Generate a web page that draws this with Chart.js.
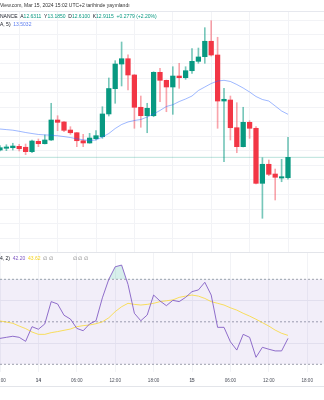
<!DOCTYPE html>
<html>
<head>
<meta charset="utf-8">
<script src="https://cdn.jsdelivr.net/npm/chart.js@4.4.1/dist/chart.umd.min.js"></script>
<style>
  html, body { margin: 0; padding: 0; background: #fff; overflow: hidden; }
  #wrap { position: relative; width: 324px; height: 400px; }
  #priceBox { position: absolute; left: 0; top: 0; width: 324px; height: 252px; }
  #rsiBox { position: absolute; left: 0; top: 252px; width: 324px; height: 148px; }
</style>
</head>
<body>
<div id="wrap">
  <div id="priceBox"><canvas id="priceChart" width="324" height="252"></canvas></div>
  <div id="rsiBox"><canvas id="rsiChart" width="324" height="148"></canvas></div>
</div>
<script>
// hourly candles, Mar 13 18:00 -> Mar 15 15:00
const opens  = [13.012, 13.036, 13.044, 13.063, 13.050, 12.989, 13.132, 13.099, 13.150, 13.425, 13.398, 13.287, 13.250, 13.140, 13.109, 13.168, 13.195, 13.508, 13.856, 14.195, 14.268, 14.044, 13.600, 13.484, 13.484, 14.081, 13.971, 13.879, 14.030, 14.007, 14.103, 14.232, 14.296, 14.508, 14.319, 13.686, 13.700, 13.319, 13.058, 13.393, 13.311, 12.554, 12.816, 12.682, 12.627, 12.6311];
const highs  = [13.074, 13.085, 13.105, 13.091, 13.095, 13.150, 13.164, 13.219, 13.655, 13.484, 13.404, 13.333, 13.253, 13.228, 13.242, 13.278, 13.608, 14.003, 14.241, 14.498, 14.323, 14.051, 13.755, 13.655, 14.089, 14.136, 13.975, 14.158, 14.205, 14.158, 14.406, 14.415, 14.695, 14.791, 14.563, 13.861, 13.755, 13.663, 13.600, 13.415, 13.333, 12.906, 12.875, 12.751, 12.884, 13.185];
const lows   = [12.999, 13.003, 13.012, 12.999, 12.948, 12.975, 13.058, 13.095, 13.143, 13.278, 13.264, 13.228, 13.058, 13.058, 13.105, 13.150, 13.173, 13.480, 13.655, 13.893, 13.838, 13.311, 13.325, 13.250, 13.470, 13.677, 13.539, 13.503, 13.861, 13.985, 14.067, 14.205, 14.205, 14.305, 13.311, 12.851, 13.150, 12.975, 13.054, 13.173, 12.545, 12.073, 12.659, 12.325, 12.576, 12.61];
const closes = [13.044, 13.054, 13.067, 13.030, 12.989, 13.136, 13.099, 13.150, 13.425, 13.393, 13.283, 13.250, 13.140, 13.109, 13.177, 13.209, 13.508, 13.858, 14.195, 14.268, 14.044, 13.600, 13.484, 13.586, 14.081, 13.971, 13.879, 14.030, 14.007, 14.103, 14.232, 14.292, 14.508, 14.319, 13.686, 13.710, 13.319, 13.058, 13.393, 13.311, 12.554, 12.816, 12.678, 12.637, 12.645, 12.9115];
const maValues = [13.301, 13.293, 13.285, 13.270, 13.253, 13.239, 13.226, 13.220, 13.216, 13.208, 13.197, 13.184, 13.166, 13.153, 13.142, 13.150, 13.191, 13.239, 13.308, 13.363, 13.398, 13.418, 13.432, 13.466, 13.508, 13.556, 13.611, 13.635, 13.679, 13.714, 13.755, 13.831, 13.879, 13.927, 13.961, 13.971, 13.955, 13.913, 13.865, 13.810, 13.748, 13.707, 13.686, 13.618, 13.549, 13.5032];

const rsiValues = [42.2, 42.7, 43.2, 42.7, 40.8, 47.7, 46.5, 49.0, 59.5, 58.4, 53.1, 51.3, 46.9, 45.8, 49.0, 50.5, 61.3, 70.0, 75.9, 76.7, 67.6, 54.0, 50.5, 53.2, 62.6, 59.8, 57.6, 60.1, 59.5, 61.5, 64.2, 65.0, 68.6, 62.6, 47.4, 47.4, 40.6, 36.7, 44.1, 42.7, 33.3, 38.0, 37.1, 36.3, 36.3, 42.2];
const rsiMaValues = [50.4, 49.9, 49.3, 48.0, 46.8, 45.2, 44.1, 44.1, 44.9, 45.4, 46.0, 46.6, 47.7, 48.2, 48.5, 49.1, 50.0, 51.9, 54.8, 57.1, 58.7, 58.2, 57.9, 58.2, 58.7, 59.5, 59.9, 60.3, 61.5, 62.1, 62.6, 62.1, 61.0, 59.5, 58.7, 57.9, 56.6, 55.5, 54.0, 52.7, 51.2, 49.6, 48.0, 46.1, 44.6, 43.62];
const rsiLevels = [70, 50, 30];

const timeLabels = ["18:00", "14", "06:00", "12:00", "18:00", "15", "06:00", "12:00", "18:00"];
const priceGrid = [11.8, 12.0, 12.2, 12.4, 12.6, 12.8, 13.0, 13.2, 13.4, 13.6, 13.8, 14.0, 14.2, 14.4, 14.6, 14.8];
const rsiGrid = [40, 60];

const changeText = "+0.2779 (+2.20%)";

const UP = "#089981";
const DOWN = "#F23645";
const FONT = "'Liberation Sans', Arial, sans-serif";
const TXT = "#131722";
const X_MAX = 50.625;   // 324px / 6.4px per hour
const HOURS_PER_TICK = 6;

const isUp = opens.map((o, i) => closes[i] >= o);
const lastClose = closes[closes.length - 1];

function xTicks(scale) {
  scale.ticks = timeLabels.map((_, i) => ({ value: i * HOURS_PER_TICK }));
}

function drawRuns(ctx, runs, hidden, y) {
  let x = -ctx.measureText(hidden).width;
  runs.forEach(([t, c]) => {
    ctx.fillStyle = c;
    ctx.fillText(t, x, y);
    x += ctx.measureText(t).width;
  });
}

const priceText = {
  id: "priceText",
  afterDraw(chart) {
    const ctx = chart.ctx;
    const area = chart.chartArea;
    ctx.save();
    ctx.strokeStyle = "#e6e8ee";
    ctx.lineWidth = 1;
    ctx.beginPath();
    ctx.moveTo(0, Math.round(area.top) + 0.5);
    ctx.lineTo(324, Math.round(area.top) + 0.5);
    ctx.stroke();

    ctx.font = "5px " + FONT;
    ctx.textBaseline = "middle";
    const n = opens.length - 1;
    drawRuns(ctx, [["TradingView.com, Mar 15, 2024 15:02 UTC+2 tarihinde yayınlandı", "#333"]], "Trading", 6);
    drawRuns(ctx, [
      ["BINANCE  ", TXT], ["A", TXT], [opens[n].toFixed(4), UP],
      ["  Y", TXT], [highs[n].toFixed(4), UP],
      ["  D", TXT], [lows[n].toFixed(4), UP],
      ["  K", TXT], [closes[n].toFixed(4), UP],
      ["  " + changeText, UP]
    ], "BI", 17);
    drawRuns(ctx, [["MA (9, close, 0, SMA, 5)  ", TXT], [maValues[n].toFixed(4), "#5b7cf0"]], "MA (9, close, 0, SM", 25);
    ctx.restore();
  }
};

new Chart(document.getElementById("priceChart"), {
  data: {
    datasets: [
      {
        type: "line",
        data: [{ x: 0, y: lastClose }, { x: X_MAX, y: lastClose }],
        borderColor: "rgba(8,153,129,0.28)",
        borderWidth: 1,
        pointRadius: 0,
        order: 4
      },
      {
        type: "bar",
        data: lows.map((l, i) => ({ x: i, y: [l, highs[i]] })),
        backgroundColor: isUp.map(u => u ? "rgba(8,153,129,0.55)" : "rgba(242,54,69,0.45)"),
        barThickness: 1,
        grouped: false,
        order: 3
      },
      {
        type: "bar",
        data: opens.map((o, i) => ({ x: i, y: [o, closes[i]] })),
        backgroundColor: isUp.map(u => u ? UP : DOWN),
        barThickness: 4.6,
        grouped: false,
        order: 2
      },
      {
        type: "line",
        data: maValues.map((v, i) => ({ x: i, y: v })),
        borderColor: "rgba(41,98,255,0.45)",
        borderWidth: 1,
        pointRadius: 0,
        order: 1
      }
    ]
  },
  options: {
    responsive: false,
    animation: false,
    devicePixelRatio: 1,
    layout: { padding: { top: 11, left: 0, right: 0, bottom: 0 } },
    plugins: { legend: { display: false }, tooltip: { enabled: false } },
    scales: {
      x: {
        type: "linear",
        min: 0,
        max: X_MAX,
        offset: false,
        afterBuildTicks: xTicks,
        afterFit(s) { s.height = 0; s.paddingLeft = 0; s.paddingRight = 0; },
        ticks: { display: false },
        grid: { color: "#f2f3f6", drawTicks: false },
        border: { display: false }
      },
      y: {
        min: 11.6094,
        max: 14.9243,
        afterBuildTicks(s) { s.ticks = priceGrid.map(v => ({ value: v })); },
        afterFit(s) { s.width = 0; },
        ticks: { display: false },
        grid: { color: "#f2f3f6", drawTicks: false },
        border: { display: false }
      }
    }
  },
  plugins: [priceText]
});

const rsiText = {
  id: "rsiText",
  afterDraw(chart) {
    const ctx = chart.ctx;
    ctx.save();
    ctx.strokeStyle = "#e3e5ea";
    ctx.lineWidth = 1;
    ctx.beginPath();
    ctx.moveTo(0, 0.5); ctx.lineTo(324, 0.5);
    ctx.moveTo(0, 134.5); ctx.lineTo(324, 134.5);
    ctx.stroke();

    ctx.font = "5px " + FONT;
    ctx.textBaseline = "middle";
    const n = rsiValues.length - 1;
    drawRuns(ctx, [
      ["RSI (14, close, SMA, 14, 2)  ", TXT],
      [rsiValues[n].toFixed(2), "#7E57C2"], ["  ", TXT],
      [rsiMaValues[n].toFixed(2), "#f5d31f"], ["  ", TXT],
      ["∅ ∅", "#777"]
    ], "RSI (14, close, SMA, 1", 7);
    ctx.fillStyle = "#777";
    ctx.fillText("∅ ∅ ∅", 73, 7);
    ctx.restore();
  }
};

const levelLine = (v, fill) => ({
  type: "line",
  data: [{ x: 0, y: v }, { x: X_MAX, y: v }],
  borderColor: "#9ea3ad",
  borderWidth: 1,
  borderDash: [2, 2],
  pointRadius: 0,
  fill: fill,
  backgroundColor: "rgba(126,87,194,0.1)",
  order: 5
});

new Chart(document.getElementById("rsiChart"), {
  data: {
    datasets: [
      levelLine(rsiLevels[0], 2),
      levelLine(rsiLevels[1], false),
      levelLine(rsiLevels[2], false),
      {
        type: "line",
        data: rsiMaValues.map((v, i) => ({ x: i, y: v })),
        borderColor: "rgba(250,215,40,0.75)",
        borderWidth: 1,
        pointRadius: 0,
        order: 2
      },
      {
        type: "line",
        data: rsiValues.map((v, i) => ({ x: i, y: v })),
        borderColor: "rgba(126,87,194,0.85)",
        borderWidth: 1,
        pointRadius: 0,
        fill: { target: { value: rsiLevels[0] }, above: "rgba(8,153,129,0.16)", below: "rgba(0,0,0,0)" },
        order: 1
      }
    ]
  },
  options: {
    responsive: false,
    animation: false,
    devicePixelRatio: 1,
    layout: { padding: 0 },
    plugins: { legend: { display: false }, tooltip: { enabled: false }, filler: { propagate: false } },
    scales: {
      x: {
        type: "linear",
        min: 0,
        max: X_MAX,
        offset: false,
        afterBuildTicks: xTicks,
        afterFit(s) { s.height = 28; s.paddingLeft = 0; s.paddingRight = 0; },
        ticks: {
          autoSkip: false,
          maxRotation: 0,
          padding: 6,
          color: "#4c505b",
          font: c => ({ family: FONT, size: 4.6, weight: c.tick && c.tick.label.indexOf(":") < 0 ? "bold" : "normal" }),
          callback: v => timeLabels[Math.round(v / HOURS_PER_TICK)]
        },
        grid: { color: "#f2f3f6", drawTicks: false },
        border: { display: false }
      },
      y: {
        min: 26.38,
        max: 82.85,
        afterBuildTicks(s) { s.ticks = rsiGrid.map(v => ({ value: v })); },
        afterFit(s) { s.width = 0; },
        ticks: { display: false },
        grid: { color: "#eeeff3", drawTicks: false },
        border: { display: false }
      }
    }
  },
  plugins: [rsiText]
});
</script>
</body>
</html>
